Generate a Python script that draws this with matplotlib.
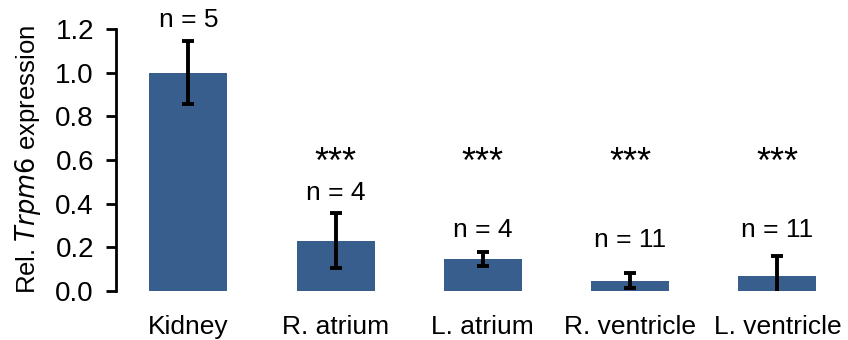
import numpy as np
import matplotlib
matplotlib.use("Agg")
import matplotlib.pyplot as plt

plt.rcParams['font.family'] = ['Liberation Sans', 'DejaVu Sans']

# relative Trpm6 expression per tissue
tissues = ["Kidney", "R. atrium", "L. atrium", "R. ventricle", "L. ventricle"]
means = [1.0, 0.23, 0.145, 0.048, 0.07]
errs = [0.145, 0.125, 0.032, 0.033, 0.09]
n_labels = ["n = 5", "n = 4", "n = 4", "n = 11", "n = 11"]
n_label_y = [1.24, 0.45, 0.28, 0.235, 0.28]
stars = ["", "***", "***", "***", "***"]
star_y = 0.585

BAR_COLOR = "#385E8D"

fig = plt.figure(figsize=(8.48, 3.4), dpi=100)
ax = fig.add_axes([0.137, 0.144, 0.863, 0.771])

x = np.arange(len(tissues))
ax.bar(x, means, width=0.53, color=BAR_COLOR)
ax.errorbar(x, means, yerr=errs, fmt="none", ecolor="black",
            elinewidth=2.8, capsize=4.5, capthick=2.8)

for xi, lab, ly in zip(x, n_labels, n_label_y):
    ax.text(xi, ly, lab, ha="center", va="center", fontsize=19)
for xi, s in zip(x, stars):
    if s:
        ax.text(xi, star_y, s, ha="center", va="center", fontsize=26)

ax.set_xlim(-0.49, 4.48)
ax.set_ylim(0, 1.2)
ax.set_yticks(np.arange(0, 1.21, 0.2))
ax.set_yticklabels([f"{v:.1f}" for v in np.arange(0, 1.21, 0.2)])
ax.set_xticks(x)
ax.set_xticklabels(tissues)
ax.tick_params(axis="y", labelsize=20, length=7, width=2, pad=9)
ax.tick_params(axis="x", labelsize=19, length=0, pad=17)

for side in ["top", "right", "bottom"]:
    ax.spines[side].set_visible(False)
ax.spines["left"].set_linewidth(2)

ax.set_ylabel("Rel. $\\mathit{Trpm6}$ expression", fontsize=18.5, labelpad=9)

fig.savefig("out.png", dpi=100)
